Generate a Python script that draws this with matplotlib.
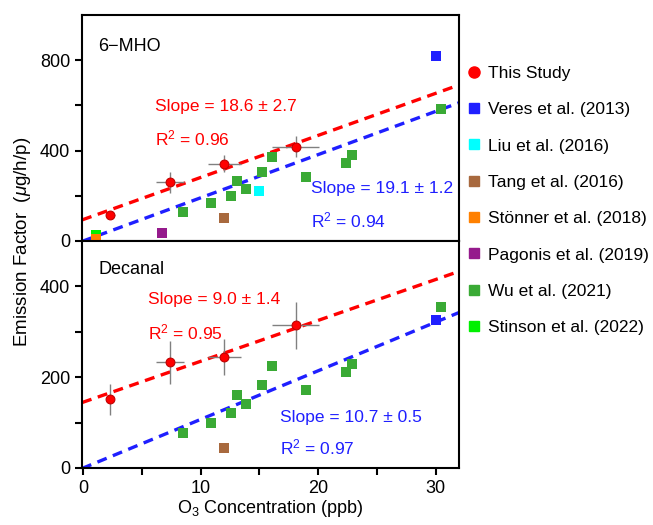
import matplotlib
matplotlib.use("Agg")
import numpy as np
import matplotlib.pyplot as plt
from matplotlib.lines import Line2D

plt.rcParams['font.family'] = ['Liberation Sans', 'DejaVu Sans']
plt.rcParams['mathtext.fontset'] = 'custom'
plt.rcParams['mathtext.rm'] = 'Liberation Sans'
plt.rcParams['mathtext.it'] = 'Liberation Sans:italic'

# ---- data: This Study (red circles with error bars) ----
study_x = [2.3, 7.4, 12.0, 18.1]
study_xerr = [0.4, 1.2, 1.4, 2.0]
mho_study_y = [115, 259, 341, 418]
mho_study_yerr = [15, 45, 38, 46]
dec_study_y = [151, 233, 244, 314]
dec_study_yerr = [35, 47, 40, 51]
dec_study_xerr = [0.0, 1.2, 1.4, 2.0]

# ---- literature data ----
wu_x = [8.5, 10.9, 12.6, 13.1, 13.9, 15.2, 16.1, 19.0, 22.4, 22.9, 30.5]
mho_wu_y = [130, 167, 197, 267, 231, 304, 370, 283, 345, 379, 582]
dec_wu_y = [78, 100, 121, 161, 140, 183, 225, 172, 211, 228, 354]

mho_others = {
    'Veres et al. (2013)': ([30.0], [819]),
    'Liu et al. (2016)': ([15.0], [219]),
    'Tang et al. (2016)': ([12.0], [101]),
    'Pagonis et al. (2019)': ([6.7], [37]),
    'Stinson et al. (2022)': ([1.1], [28]),
    'Stönner et al. (2018)': ([1.1], [8]),
}
dec_others = {
    'Veres et al. (2013)': ([30.0], [326]),
    'Tang et al. (2016)': ([12.0], [43]),
}

colors = {
    'This Study': '#ff0000',
    'Veres et al. (2013)': '#1f1fff',
    'Liu et al. (2016)': '#00ffff',
    'Tang et al. (2016)': '#a8693e',
    'Stönner et al. (2018)': '#ff8000',
    'Pagonis et al. (2019)': '#951a8c',
    'Wu et al. (2021)': '#3aaa35',
    'Stinson et al. (2022)': '#00f000',
}
legend_order = ['This Study', 'Veres et al. (2013)', 'Liu et al. (2016)',
                'Tang et al. (2016)', 'Stönner et al. (2018)',
                'Pagonis et al. (2019)', 'Wu et al. (2021)', 'Stinson et al. (2022)']

# fits: (slope, intercept)
mho_study_fit = (18.6, 95)
mho_lit_fit = (19.1, 0)
dec_study_fit = (9.0, 145)
dec_lit_fit = (10.7, 0)

XMIN, XMAX = -0.1, 32
FS = 13
FS_NOTE = 12.5

fig = plt.figure(figsize=(6.53, 5.25), dpi=100)
ax1 = fig.add_axes([0.1256, 0.541, 0.5773, 0.4305])
ax2 = fig.add_axes([0.1256, 0.1086, 0.5773, 0.4324])


def draw_panel(ax, sy, sxerr, syerr, wuy, others, fit_s, fit_l):
    xx = np.array([XMIN, XMAX])
    ax.plot(xx, fit_s[0] * xx + fit_s[1], color='#ff0000', ls=(0, (3, 2)), lw=2.4, zorder=2)
    ax.plot(xx, fit_l[0] * xx + fit_l[1], color='#1f1fff', ls=(0, (3, 2)), lw=2.4, zorder=2)
    ax.scatter(wu_x, wuy, marker='s', s=55, color=colors['Wu et al. (2021)'], zorder=3, lw=0)
    for name, (ox, oy) in others.items():
        ax.scatter(ox, oy, marker='s', s=55, color=colors[name], zorder=3, lw=0,
                   clip_on=False)
    ax.errorbar(study_x, sy, xerr=sxerr, yerr=syerr, fmt='none',
                ecolor='#808080', elinewidth=1.0, capsize=0, zorder=4)
    ax.scatter(study_x, sy, marker='o', s=40, color='#ff0000', edgecolor='#c00000',
               lw=0.8, zorder=5)
    ax.set_xlim(XMIN, XMAX)
    ax.set_xticks([0, 5, 10, 15, 20, 25, 30])
    for sp in ax.spines.values():
        sp.set_linewidth(1.5)
    ax.tick_params(direction='out', length=5, width=1.5, labelsize=FS)


draw_panel(ax1, mho_study_y, study_xerr, mho_study_yerr, mho_wu_y, mho_others,
           mho_study_fit, mho_lit_fit)
draw_panel(ax2, dec_study_y, dec_study_xerr, dec_study_yerr, dec_wu_y, dec_others,
           dec_study_fit, dec_lit_fit)

ax1.set_ylim(0, 1000)
ax1.set_yticks([0, 200, 400, 600, 800])
ax1.set_yticklabels(['0', '', '400', '', '800'])
ax1.set_xticklabels([])

ax2.set_ylim(0, 500)
ax2.set_yticks([0, 100, 200, 300, 400])
ax2.set_yticklabels(['0', '', '200', '', '400'])
ax2.set_xticklabels(['0', '', '10', '', '20', '', '30'])
ax2.set_xlabel('O$_3$ Concentration (ppb)', fontsize=FS, labelpad=1)

# panel annotations
ax1.text(1.3, 862, '6\u2212MHO', fontsize=FS, va='center')
ax1.text(6.15, 596, 'Slope = 18.6 \u00b1 2.7', color='#ff0000', fontsize=FS_NOTE, va='center')
ax1.text(6.15, 453, 'R$^2$ = 0.96', color='#ff0000', fontsize=FS_NOTE, va='center')
ax1.text(19.4, 231, 'Slope = 19.1 \u00b1 1.2', color='#1f1fff', fontsize=FS_NOTE, va='center')
ax1.text(19.4, 93, 'R$^2$ = 0.94', color='#1f1fff', fontsize=FS_NOTE, va='center')

ax2.text(1.3, 437, 'Decanal', fontsize=FS, va='center')
ax2.text(5.55, 371, 'Slope = 9.0 \u00b1 1.4', color='#ff0000', fontsize=FS_NOTE, va='center')
ax2.text(5.55, 298, 'R$^2$ = 0.95', color='#ff0000', fontsize=FS_NOTE, va='center')
ax2.text(16.8, 112, 'Slope = 10.7 \u00b1 0.5', color='#1f1fff', fontsize=FS_NOTE, va='center')
ax2.text(16.8, 46, 'R$^2$ = 0.97', color='#1f1fff', fontsize=FS_NOTE, va='center')

fig.text(0.034, 0.54, 'Emission Factor  ($\\mu$g/h/p)', rotation=90, fontsize=13.5,
         ha='center', va='center')

# legend
handles = []
for name in legend_order:
    if name == 'This Study':
        h = Line2D([], [], marker='o', ls='none', color=colors[name], markersize=8)
    else:
        h = Line2D([], [], marker='s', ls='none', color=colors[name], markersize=7)
    handles.append(h)
fig.legend(handles, legend_order, loc='upper left', bbox_to_anchor=(0.705, 0.888),
           frameon=False, fontsize=12.5, handlelength=0.8, handletextpad=0.4,
           labelspacing=1.22, borderaxespad=0)

fig.savefig('out.png', dpi=100)
